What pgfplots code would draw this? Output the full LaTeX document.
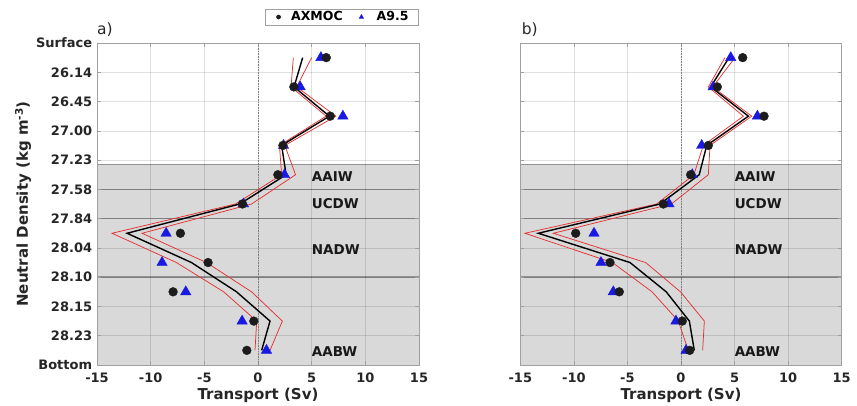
\documentclass[border=0pt]{standalone}
\usepackage{fontspec}
\setmainfont{DejaVu Sans}
\usepackage{pgfplots}
\pgfplotsset{compat=1.18}
\usepackage{pgfplotstable}

\definecolor{txt}{RGB}{38,38,38}
\definecolor{axgray}{RGB}{160,160,160}
\definecolor{shade}{RGB}{217,217,217}
\definecolor{sepc}{RGB}{145,145,145}
\definecolor{tri}{RGB}{25,25,225}
\definecolor{dot}{RGB}{28,28,28}
\definecolor{redl}{RGB}{228,50,50}

% y = layer centre (0 = Surface ... 11 = Bottom)
\pgfplotstableread{
y    circ   tri    mean    lo      hi
0.5  6.36   5.86   4.16    3.29    5.00
1.5  3.34   3.93   3.36    3.08    3.60
2.5  6.73   7.91   6.65    6.35    7.25
3.5  2.32   2.38   2.20    2.00    2.50
4.5  1.85   2.47   2.62    2.20    3.50
5.5  -1.45  -1.35  -1.70   -2.10   -0.60
6.5  -7.23  -8.56  -12.20  -13.60  -10.80
7.5  -4.65  -8.94  -6.20   -7.60   -4.80
8.5  -7.91  -6.73  -2.00   -3.20   -0.60
9.5  -0.39  -1.48  1.12    -0.12   2.27
10.5 -1.04  0.79   0.34    -0.28   1.12
}\dataA

\pgfplotstableread{
y    circ   tri    mean    lo      hi
0.5  5.76   4.64   4.48    4.10    5.04
1.5  3.39   3.00   2.77    2.55    2.96
2.5  7.75   7.13   6.29    5.82    6.60
3.5  2.55   1.93   2.40    2.08    2.71
4.5  0.90   1.05   1.70    1.20    2.55
5.5  -1.65  -1.12  -1.96   -2.27   -0.90
6.5  -9.83  -8.12  -13.32  -14.57  -11.92
7.5  -6.63  -7.47  -4.76   -6.40   -3.30
8.5  -5.76  -6.32  -1.38   -2.70   -0.05
9.5  0.12   -0.47  0.78    -0.25   2.18
10.5 0.81   0.47   1.24    0.68    2.02
}\dataB

\pgfplotsset{
  panel/.style={
    set layers, clip mode=individual,
    scale only axis, width=322bp, height=322bp,
    xmin=-15, xmax=15, ymin=0, ymax=11, y dir=reverse,
    xtick={-15,-10,-5,0,5,10,15},
    xticklabels={-15,-10,-5,0,5,10,15},
    ytick={0,1,2,3,4,5,6,7,8,9,10,11},
    grid=major, grid style={black, opacity=0.12, line width=0.5bp},
    axis line style={axgray, line width=0.6bp},
    tick style={axgray, line width=0.6bp},
    major tick length=4bp, tick align=inside,
    ticklabel style={font=\fontsize{13bp}{15bp}\selectfont\bfseries, text=txt},
    x tick label style={anchor=north, inner sep=0pt, yshift=-7.7bp},
    y tick label style={anchor=east, inner sep=0pt, xshift=-4.7bp},
    every axis x label/.style={at={(axis description cs:0.5,-0.1065)}, anchor=base,
        font=\fontsize{15bp}{18bp}\selectfont\bfseries, text=txt},
    every axis y label/.style={at={(axis description cs:-0.2143,0.5)}, anchor=base, rotate=90,
        font=\fontsize{15bp}{18bp}\selectfont\bfseries, text=txt},
    xlabel={Transport (Sv)},
    every axis title/.style={at={(axis description cs:0,1)}, anchor=base west, inner sep=0pt, yshift=8.7bp,
                 font=\fontsize{15.5bp}{18bp}\selectfont, text=txt},
  },
}

\newcommand{\panelcontent}[1]{%
  \addplot[on layer=axis background, fill=shade, draw=none, forget plot]
     coordinates {(-15,4.15) (15,4.15) (15,11) (-15,11) (-15,4.15)};
  \addplot[on layer=axis background, sepc, line width=0.8bp, forget plot] coordinates {(-15,4.15) (15,4.15)};
  \addplot[on layer=axis background, sepc, line width=1.4bp, forget plot] coordinates {(-15,5) (15,5)};
  \addplot[on layer=axis background, sepc, line width=1.4bp, forget plot] coordinates {(-15,6) (15,6)};
  \addplot[on layer=axis background, sepc, line width=1.4bp, forget plot] coordinates {(-15,8) (15,8)};
  \addplot[gray, densely dotted, line width=0.6bp, forget plot] coordinates {(0,0) (0,11)};
  \addplot[redl, line width=0.75bp, forget plot] table[x=lo, y=y] {#1};
  \addplot[redl, line width=0.75bp, forget plot] table[x=hi, y=y] {#1};
  \addplot[black, line width=1.4bp, forget plot] table[x=mean, y=y] {#1};
  \addplot[only marks, mark=triangle*, mark size=6.0bp, color=tri, forget plot] table[x=tri, y=y] {#1};
  \addplot[only marks, mark=*, mark size=4.4bp, color=dot, forget plot] table[x=circ, y=y] {#1};
  \node[anchor=west, inner sep=0pt, font=\fontsize{13.5bp}{15bp}\selectfont\bfseries, text=black!90] at (axis cs:5,4.55) {AAIW};
  \node[anchor=west, inner sep=0pt, font=\fontsize{13.5bp}{15bp}\selectfont\bfseries, text=black!90] at (axis cs:5,5.5) {UCDW};
  \node[anchor=west, inner sep=0pt, font=\fontsize{13.5bp}{15bp}\selectfont\bfseries, text=black!90] at (axis cs:5,7.05) {NADW};
  \node[anchor=west, inner sep=0pt, font=\fontsize{13.5bp}{15bp}\selectfont\bfseries, text=black!90] at (axis cs:5,10.55) {AABW};
}

\begin{document}
\begin{tikzpicture}
\path (0bp,0bp) rectangle (857bp,406bp);

\begin{axis}[panel,
  at={(97bp,41bp)}, anchor=south west,
  yticklabels={Surface,26.14,26.45,27.00,27.23,27.58,27.84,28.04,28.10,28.15,28.23,Bottom},
  ylabel={Neutral Density (kg m\textsuperscript{-3})},
  title={a)},
  legend columns=2,
  legend style={at={(axis description cs:0.761,1.0807)}, anchor=center,
    draw=axgray, line width=0.6bp, fill=white, inner xsep=10bp, inner ysep=2.5bp,
    nodes={inner xsep=0pt, inner ysep=0pt},
    font=\fontsize{12.5bp}{15bp}\selectfont\bfseries, text=black,
    /tikz/every even column/.style={column sep=0pt},
    /tikz/every odd column/.style={column sep=0pt}},
]
\addlegendimage{legend image code/.code={\draw[dot, mark=*, mark size=2bp] plot coordinates {(2.7bp,0bp)}; \path (0bp,0bp) (15bp,0bp);}}
\addlegendentry{AXMOC}
\addlegendimage{legend image code/.code={\draw[tri, mark=triangle*, mark size=2.4bp] plot coordinates {(18.4bp,0bp)}; \path (0bp,0bp) (33.4bp,0bp);}}
\addlegendentry{A9.5}
\panelcontent{\dataA}
\end{axis}

\begin{axis}[panel,
  at={(520.3bp,41bp)}, anchor=south west, width=321.4bp,
  yticklabels={},
  title={b)},
  title style={xshift=1.4bp},
]
\panelcontent{\dataB}
\end{axis}
\end{tikzpicture}
\end{document}
